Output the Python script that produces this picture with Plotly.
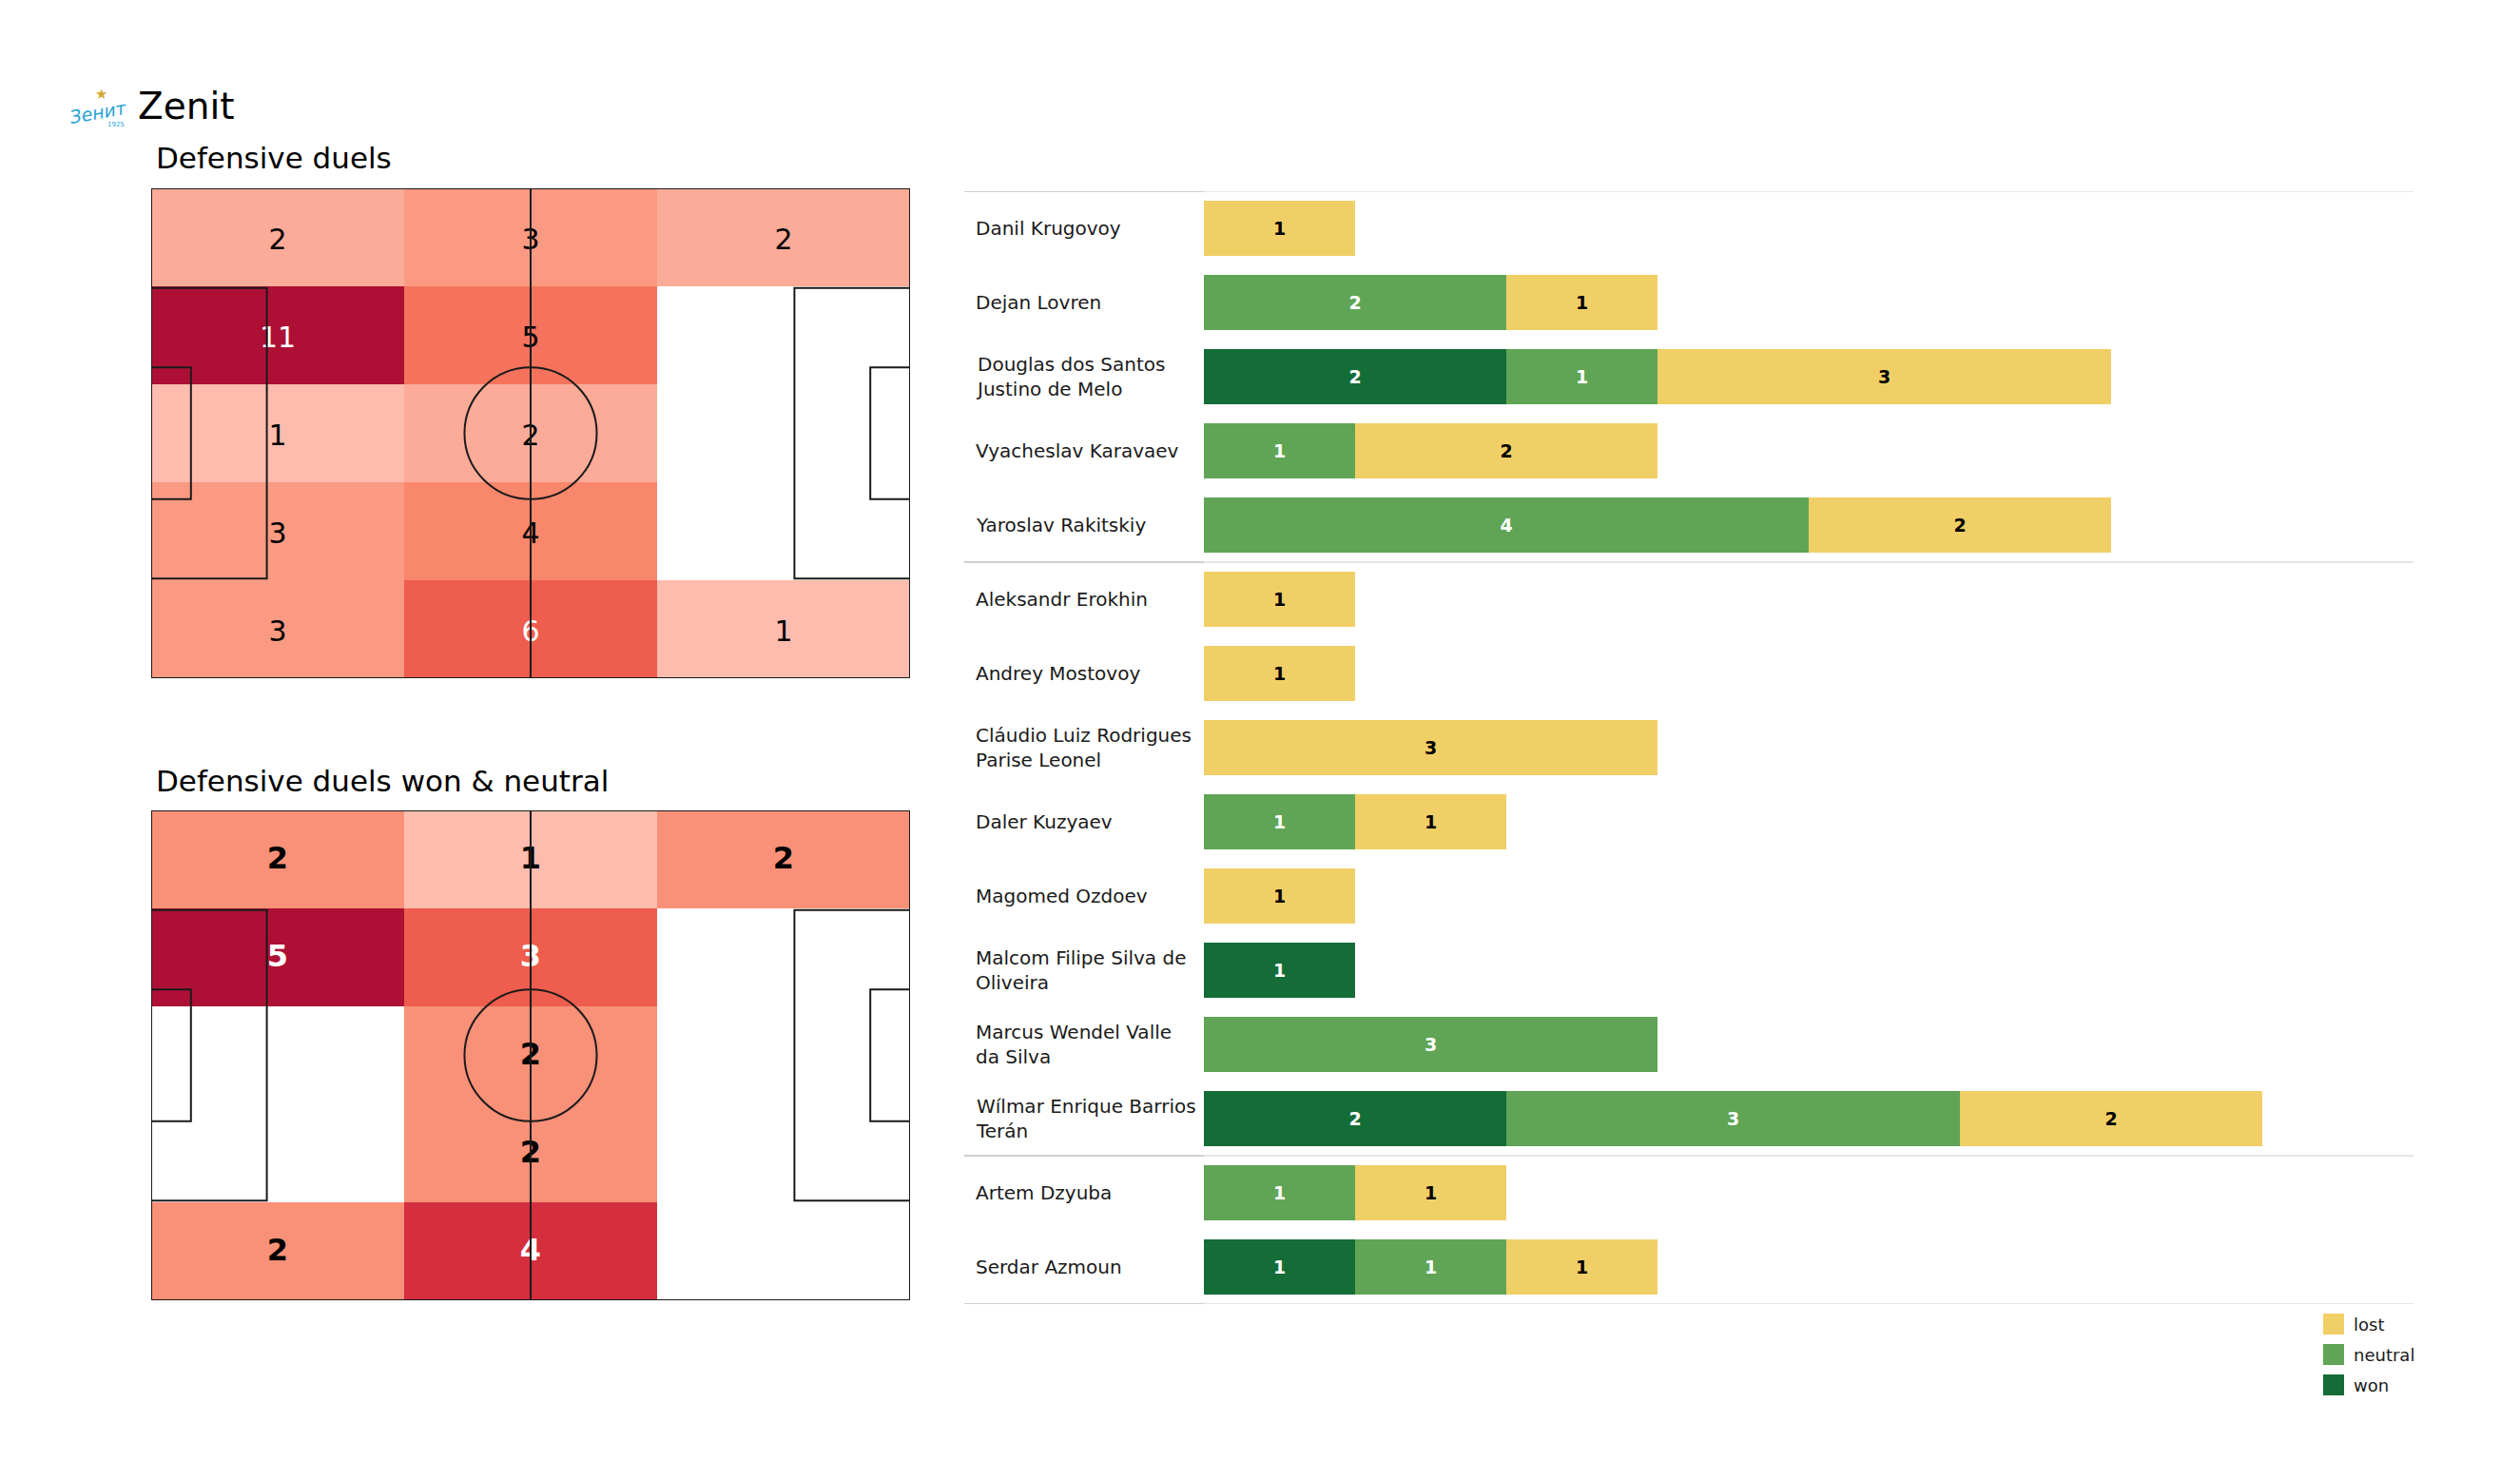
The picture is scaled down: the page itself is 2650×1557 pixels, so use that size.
import plotly.graph_objects as go

W, H = 2650, 1557
FONT = "DejaVu Sans"

# ---------------- data ----------------
players = ["Danil Krugovoy", "Dejan Lovren", "Douglas dos Santos<br>Justino de Melo",
           "Vyacheslav Karavaev", "Yaroslav Rakitskiy", "Aleksandr Erokhin",
           "Andrey Mostovoy", "Cláudio Luiz Rodrigues<br>Parise Leonel", "Daler Kuzyaev",
           "Magomed Ozdoev", "Malcom Filipe Silva de<br>Oliveira", "Marcus Wendel Valle<br>da Silva",
           "Wílmar Enrique Barrios<br>Terán", "Artem Dzyuba", "Serdar Azmoun"]
won     = [0, 0, 2, 0, 0, 0, 0, 0, 0, 0, 1, 0, 2, 0, 1]
neutral = [0, 2, 1, 1, 4, 0, 0, 0, 1, 0, 0, 3, 3, 1, 1]
lost    = [1, 1, 3, 2, 2, 1, 1, 3, 1, 1, 0, 0, 2, 1, 1]
group_breaks = [5, 13]
legend_labels = ["lost", "neutral", "won"]

# heatmap grids: rows top -> bottom, columns left -> right
duels_grid = [[2, 3, 2],
              [11, 5, 0],
              [1, 2, 0],
              [3, 4, 0],
              [3, 6, 1]]
won_neutral_grid = [[2, 1, 2],
                    [5, 3, 0],
                    [0, 2, 0],
                    [0, 2, 0],
                    [2, 4, 0]]

PITCH_L, PITCH_W = 105.0, 68.0
col_edges = [0, 35, 70, 105]
row_edges = [0, 13.6, 27.2, 40.8, 54.4, 68]

colorscale = [[0.0, "#fdbcae"], [0.1, "#fcab98"], [0.2, "#fb9a82"], [0.25, "#f99078"],
              [0.3, "#f9876b"], [0.4, "#f5735d"], [0.5, "#ee5d4d"], [0.75, "#d52e3e"],
              [1.0, "#ae1035"]]

C_LOST, C_NEUTRAL, C_WON = "#f1cf67", "#5fa555", "#146c37"
legend_colors = [C_LOST, C_NEUTRAL, C_WON]

OFF = 8  # page body margin

fig = go.Figure()

def px_x(p):
    return (p - OFF) / W

def px_y(p):
    return 1 - (p - OFF) / H

# ---------------- pitches ----------------
pitches = [
    ("x", "y", duels_grid, 198, 713, False, 30, 0.6),
    ("x2", "y2", won_neutral_grid, 852, 1367, True, 32, 0.2),
]
xc = [(col_edges[i] + col_edges[i + 1]) / 2 for i in range(3)]
yc = [(row_edges[i] + row_edges[i + 1]) / 2 for i in range(5)]

for k, (xa, ya, grid, top, bot, bold, fsize, tshift) in enumerate(pitches):
    vals = [v for r in grid for v in r if v > 0]
    vmin, vmax = min(vals), max(vals)
    z = [[(v if v > 0 else None) for v in r] for r in grid]
    fig.add_trace(go.Heatmap(x=xc, y=yc, z=z, xaxis=xa, yaxis=ya, zmin=vmin, zmax=vmax,
                             colorscale=colorscale, showscale=False, hoverinfo="skip",
                             xgap=0, ygap=0))
    tx, ty, tt, tc = [], [], [], []
    for r in range(5):
        for c in range(3):
            v = grid[r][c]
            if v > 0:
                tx.append(xc[c]); ty.append(yc[r] + tshift)
                tt.append(f"<b>{v}</b>" if bold else str(v))
                t = (v - vmin) / (vmax - vmin)
                tc.append("white" if t >= 0.5 else "black")
    fig.add_trace(go.Scatter(x=tx, y=ty, text=tt, mode="text", xaxis=xa, yaxis=ya,
                             textfont=dict(size=fsize, color=tc, family=FONT),
                             showlegend=False, hoverinfo="skip"))
    axn = "" if k == 0 else "2"
    fig.update_layout(**{
        f"xaxis{axn}": dict(domain=[px_x(159), px_x(957)], range=[0, PITCH_L], visible=False,
                            anchor=ya, fixedrange=True),
        f"yaxis{axn}": dict(domain=[px_y(bot), px_y(top)], range=[PITCH_W, 0], visible=False,
                            anchor=xa, fixedrange=True),
    })
    lw = dict(color="#1a1a1a", width=2)
    shp = dict(xref=xa, yref=ya, line=lw, layer="above")
    fig.add_shape(type="rect", x0=0, x1=PITCH_L, y0=0, y1=PITCH_W, **shp)
    fig.add_shape(type="line", x0=PITCH_L / 2, x1=PITCH_L / 2, y0=0, y1=PITCH_W, **shp)
    fig.add_shape(type="circle", x0=PITCH_L / 2 - 9.15, x1=PITCH_L / 2 + 9.15,
                  y0=PITCH_W / 2 - 9.15, y1=PITCH_W / 2 + 9.15, **shp)
    for (d, h) in [(16.0, 20.16), (5.5, 9.16)]:
        fig.add_shape(type="path", path=f"M 0 {PITCH_W/2-h} L {d} {PITCH_W/2-h} L {d} {PITCH_W/2+h} L 0 {PITCH_W/2+h}", **shp)
        fig.add_shape(type="path", path=f"M {PITCH_L} {PITCH_W/2-h} L {PITCH_L-d} {PITCH_W/2-h} L {PITCH_L-d} {PITCH_W/2+h} L {PITCH_L} {PITCH_W/2+h}", **shp)

# ---------------- bars ----------------
ypos = list(range(len(players)))
for name, vals, col, tcol in [("won", won, C_WON, "white"),
                              ("neutral", neutral, C_NEUTRAL, "white"),
                              ("lost", lost, C_LOST, "black")]:
    fig.add_trace(go.Bar(x=vals, y=ypos, orientation="h", name=name,
                         marker=dict(color=col, line=dict(width=0)),
                         text=[f"<b>{v}</b>" if v > 0 else "" for v in vals],
                         textposition="inside", insidetextanchor="middle", constraintext="none",
                         textfont=dict(size=19, color=tcol, family=FONT),
                         xaxis="x3", yaxis="y3", hoverinfo="skip", showlegend=False))

fig.update_layout(
    barmode="stack", bargap=0.26,
    xaxis3=dict(domain=[px_x(1266), px_x(2538)], range=[0, 8], visible=False, anchor="y3",
                fixedrange=True),
    yaxis3=dict(domain=[px_y(1371), px_y(201)], range=[len(players) - 0.5, -0.5], visible=False,
                anchor="x3", fixedrange=True),
)

for yb in [-0.5] + [b - 0.5 for b in group_breaks] + [len(players) - 0.5]:
    fig.add_shape(type="line", xref="paper", yref="y3", x0=px_x(1014), x1=px_x(1266), y0=yb, y1=yb,
                  line=dict(color="#cfcfcf", width=2), layer="below")
    fig.add_shape(type="line", xref="paper", yref="y3", x0=px_x(1266), x1=px_x(2538), y0=yb, y1=yb,
                  line=dict(color="#e6e6e6", width=2), layer="below")

annotations = []
for i, p in enumerate(players):
    annotations.append(dict(text=p, xref="paper", yref="y3", x=px_x(1024), y=i, xanchor="left",
                            yanchor="middle", showarrow=False, align="left",
                            font=dict(size=20, color="#1a1a1a", family=FONT)))

# manual legend
for j, (lab, colr) in enumerate(zip(legend_labels, legend_colors)):
    cy = 1392 + 32 * j
    fig.add_shape(type="rect", xref="paper", yref="paper", x0=px_x(2443), x1=px_x(2465),
                  y0=px_y(cy + 11), y1=px_y(cy - 11), fillcolor=colr, line=dict(width=0))
    annotations.append(dict(text=lab, xref="paper", yref="paper", x=px_x(2473), y=px_y(cy),
                            xanchor="left", yanchor="middle", showarrow=False,
                            font=dict(size=18, color="#1a1a1a", family=FONT)))

annotations += [
    dict(text="Zenit", xref="paper", yref="paper", x=px_x(143), y=px_y(111), xanchor="left",
         yanchor="middle", showarrow=False, font=dict(size=39, color="black", family=FONT)),
    dict(text="Defensive duels", xref="paper", yref="paper", x=px_x(162), y=px_y(166),
         xanchor="left", yanchor="middle", showarrow=False,
         font=dict(size=31, color="black", family=FONT)),
    dict(text="Defensive duels won & neutral", xref="paper", yref="paper", x=px_x(162),
         y=px_y(821), xanchor="left", yanchor="middle", showarrow=False,
         font=dict(size=31, color="black", family=FONT)),
    # club crest approximation
    dict(text="★", xref="paper", yref="paper", x=px_x(106), y=px_y(99), xanchor="center",
         yanchor="middle", showarrow=False, font=dict(size=15, color="#d4a937", family=FONT)),
    dict(text="<i>Зенит</i>", xref="paper", yref="paper", x=px_x(103), y=px_y(118),
         xanchor="center", yanchor="middle", showarrow=False, textangle=-10,
         font=dict(size=19, color="#27a3d8", family=FONT)),
    dict(text="1925", xref="paper", yref="paper", x=px_x(122), y=px_y(131), xanchor="center",
         yanchor="middle", showarrow=False, font=dict(size=7, color="#27a3d8", family=FONT)),
]

fig.update_layout(
    width=W, height=H, margin=dict(l=0, r=0, t=0, b=0),
    paper_bgcolor="white", plot_bgcolor="white",
    annotations=annotations,
    showlegend=False,
    font=dict(family=FONT),
)

fig.write_html("out.html")
